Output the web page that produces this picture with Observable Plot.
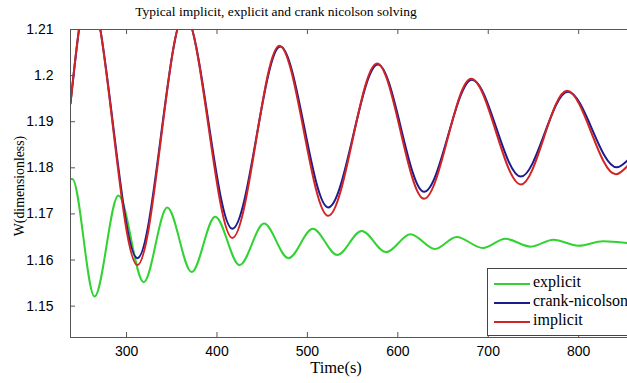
<!DOCTYPE html>
<html><head><meta charset="utf-8">
<script src="https://cdn.jsdelivr.net/npm/d3@7"></script>
<script src="https://cdn.jsdelivr.net/npm/@observablehq/plot@0.6"></script>
<style>
body{margin:0;background:#fff;}
#wrap{position:relative;width:627px;height:383px;overflow:hidden;background:#fff;}
.lbl{position:absolute;font-family:"Liberation Serif","DejaVu Serif","Times New Roman",Times,serif;color:#000;white-space:nowrap;font-size:15px;line-height:15px;}
#legend{position:absolute;left:487px;top:268px;width:160px;height:68px;border:1px solid #444;background:#fff;box-sizing:border-box;}
.sw{position:absolute;left:6px;width:36px;height:2px;}
.lt{position:absolute;left:45px;font-family:"Liberation Serif","DejaVu Serif","Times New Roman",Times,serif;font-size:16px;line-height:16px;white-space:nowrap;}
</style></head>
<body><div id="wrap"></div>
<script>
// ---- data ----
const title = "Typical implicit, explicit and crank nicolson solving";
const xLabel = "Time(s)";
const yLabel = "W(dimensionless)";
const seriesNames = ["explicit", "crank-nicolson", "implicit"];
const seriesColors = ["#32d232", "#1c1c8e", "#d22424"];

const xTicks = [300, 400, 500, 600, 700, 800];
const yTicks = [1.15, 1.16, 1.17, 1.18, 1.19, 1.2, 1.21];
const xDomain = [238, 854];
const yDomain = [1.1432, 1.21];

const tExplicit = [236, 240, 264.6, 291, 319, 345, 372, 398, 425, 452, 479, 506, 533, 560, 587, 614, 641, 665, 694, 719, 747, 772, 800, 827, 854];
const wExplicit = [1.1775, 1.1776, 1.1521, 1.1740, 1.1552, 1.1714, 1.1574, 1.1694, 1.1589, 1.1679, 1.1604, 1.1668, 1.1611, 1.1663, 1.1617, 1.1656, 1.1624, 1.1650, 1.1626, 1.1646, 1.1629, 1.1644, 1.1631, 1.1641, 1.1637];

const tCrank = [238, 258, 312, 364, 417, 470, 523, 578, 629, 682, 736, 788, 842, 854];
const wCrank = [1.1940, 1.2185, 1.1604, 1.2133, 1.1668, 1.2063, 1.1714, 1.2024, 1.1748, 1.1991, 1.1781, 1.1965, 1.1801, 1.1816];

const tImplicit = [238, 258, 312, 364, 417, 469, 523, 577, 629, 681, 736, 787, 841, 854];
const wImplicit = [1.1940, 1.2187, 1.1589, 1.2135, 1.1648, 1.2065, 1.1696, 1.2026, 1.1733, 1.1993, 1.1764, 1.1967, 1.1786, 1.1804];

// ---- build ----
const W = 627, H = 383, mL = 70, mR = 0, mT = 29, mB = 46;
const series = [
  d3.zip(tExplicit, wExplicit).map(([t, w]) => ({t, w})),
  d3.zip(tCrank, wCrank).map(([t, w]) => ({t, w})),
  d3.zip(tImplicit, wImplicit).map(([t, w]) => ({t, w}))
];
const axisColor = "#555";
const plotH = H - mT - mB, plotW = W - mL - mR;
const tick = 5;

const chart = Plot.plot({
  width: W, height: H,
  marginLeft: mL, marginRight: mR, marginTop: mT, marginBottom: mB,
  style: {fontFamily: "'Liberation Sans', Arial, sans-serif", fontSize: "14px", background: "transparent", color: "#000"},
  x: {domain: xDomain},
  y: {domain: yDomain},
  marks: [
    ...series.map((d, i) => Plot.line(d, {x: "t", y: "w", stroke: seriesColors[i], strokeWidth: 2, curve: "monotone-x", clip: true})),
    Plot.ruleY([yDomain[0]], {stroke: axisColor}),
    Plot.ruleY([yDomain[1]], {stroke: axisColor}),
    Plot.ruleX([xDomain[0]], {stroke: axisColor}),
    Plot.tickX(xTicks, {x: d => d, stroke: axisColor, insetTop: plotH - tick}),
    Plot.tickX(xTicks, {x: d => d, stroke: axisColor, insetBottom: plotH - tick}),
    Plot.tickY(yTicks, {y: d => d, stroke: axisColor, insetRight: plotW - tick}),
    Plot.axisX({ticks: xTicks, tickSize: 0, tickPadding: 9, label: null, tickFormat: d => String(d)}),
    Plot.axisY({ticks: yTicks, tickSize: 0, tickPadding: 17, label: null, tickFormat: d => String(+d.toFixed(2))})
  ]
});
const wrap = document.getElementById("wrap");
chart.style.position = "absolute";
chart.style.left = "0px";
chart.style.top = "0px";
wrap.appendChild(chart);

function addLabel(text, css) {
  const el = document.createElement("div");
  el.className = "lbl";
  el.textContent = text;
  Object.assign(el.style, css);
  wrap.appendChild(el);
  return el;
}
addLabel(title, {left: "276px", top: "4px", fontSize: "13.5px", transform: "translateX(-50%)"});
addLabel(xLabel, {left: "336px", top: "360px", fontSize: "16.5px", transform: "translateX(-50%)"});
addLabel(yLabel, {left: "19px", top: "186px", fontSize: "13.8px", transform: "translate(-50%,-50%) rotate(-90deg)"});

const legend = document.createElement("div");
legend.id = "legend";
const rowY = [15, 34, 53];
seriesNames.forEach((name, i) => {
  const sw = document.createElement("div");
  sw.className = "sw";
  sw.style.top = (rowY[i] - 1) + "px";
  sw.style.background = seriesColors[i];
  legend.appendChild(sw);
  const lt = document.createElement("div");
  lt.className = "lt";
  lt.style.top = (rowY[i] - 10) + "px";
  lt.textContent = name;
  legend.appendChild(lt);
});
wrap.appendChild(legend);
</script>
</body></html>
